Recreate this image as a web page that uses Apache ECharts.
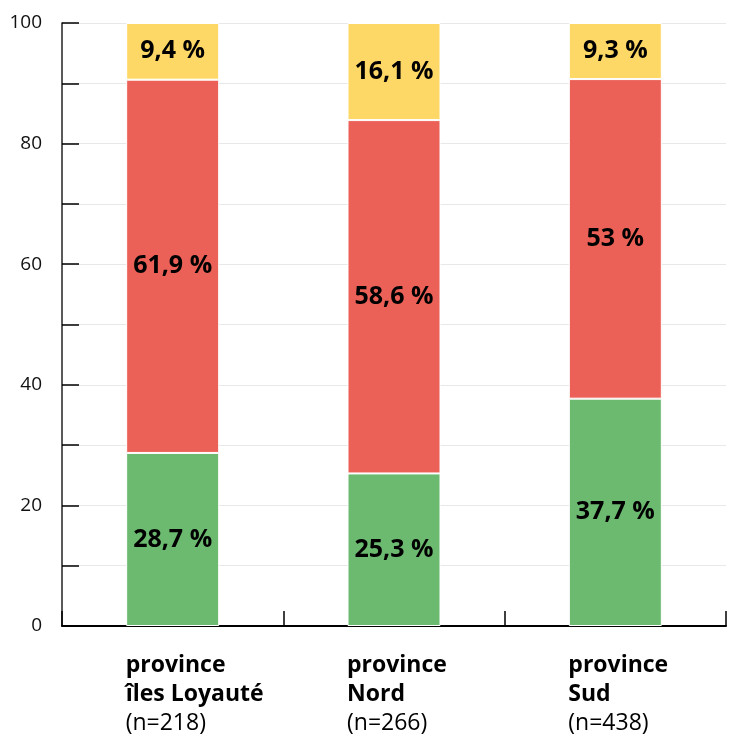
<!DOCTYPE html>
<html>
<head>
<meta charset="utf-8">
<style>
  html, body { margin: 0; padding: 0; background: #fff; }
  #chart { width: 737px; height: 738px; }
</style>
<script src="https://cdn.jsdelivr.net/npm/echarts@6/dist/echarts.min.js"></script>
</head>
<body>
<div id="chart"></div>
<script>
// Provinces, sample sizes and shares (%) per answer group
const provinces = ['province\nîles Loyauté', 'province\nNord', 'province\nSud'];
const sampleSizes = [218, 266, 438];
const greenShare = [28.7, 25.3, 37.7];
const redShare = [61.9, 58.6, 53];
const yellowShare = [9.4, 16.1, 9.3];
const yTicks = [0, 20, 40, 60, 80, 100];

const FONT = '"Open Sans", Lato, sans-serif';

const categories = provinces.map((p, i) => p + '\n(n=' + sampleSizes[i] + ')');

function pct(v) {
  return String(v).replace('.', ',') + ' %';
}

function series(name, data, color) {
  return {
    name: name,
    type: 'bar',
    stack: 'total',
    barWidth: 93,
    data: data,
    itemStyle: { color: color, borderColor: '#ffffff', borderWidth: 1 },
    label: {
      show: true,
      position: 'inside',
      formatter: p => pct(p.value),
      color: '#000',
      fontFamily: FONT,
      fontWeight: 'bold',
      fontSize: 25
    }
  };
}

const chart = echarts.init(document.getElementById('chart'), null, { renderer: 'canvas' });
chart.setOption({
  animation: false,
  grid: { left: 62, right: 11, top: 23, bottom: 112, containLabel: false },
  xAxis: {
    type: 'category',
    data: categories,
    axisLine: { lineStyle: { color: '#000', width: 2 } },
    axisTick: { show: true, inside: true, length: 15, lineStyle: { color: '#000', width: 1.5 } },
    axisLabel: {
      align: 'left',
      margin: 25,
      padding: [0, 0, 0, -47],
      fontFamily: FONT,
      lineHeight: 29,
      formatter: function (value) {
        const lines = value.split('\n');
        return '{b|' + lines[0] + '}\n{b|' + lines[1] + '}\n{n|' + lines[2] + '}';
      },
      rich: {
        b: { fontFamily: FONT, fontWeight: 'bold', fontSize: 23, color: '#000', lineHeight: 29 },
        n: { fontFamily: FONT, fontWeight: 'normal', fontSize: 23, color: '#000', lineHeight: 29 }
      }
    }
  },
  yAxis: {
    type: 'value',
    min: 0,
    max: 100,
    interval: 10,
    axisLine: { show: true, lineStyle: { color: '#222', width: 1.5 } },
    axisTick: { show: true, inside: true, length: 17, lineStyle: { color: '#000', width: 1.5 } },
    splitLine: { show: true, lineStyle: { color: '#e8e8e8', width: 1 } },
    axisLabel: {
      margin: 20,
      fontFamily: FONT,
      fontSize: 19,
      color: '#111',
      verticalAlign: 'middle',
      padding: [0, 0, 14, 0],
      formatter: v => (yTicks.indexOf(v) >= 0 ? String(v) : '')
    }
  },
  series: [
    series('vert', greenShare, '#6bba70'),
    series('rouge', redShare, '#ec6157'),
    series('jaune', yellowShare, '#fed866')
  ]
});
</script>
</body>
</html>
